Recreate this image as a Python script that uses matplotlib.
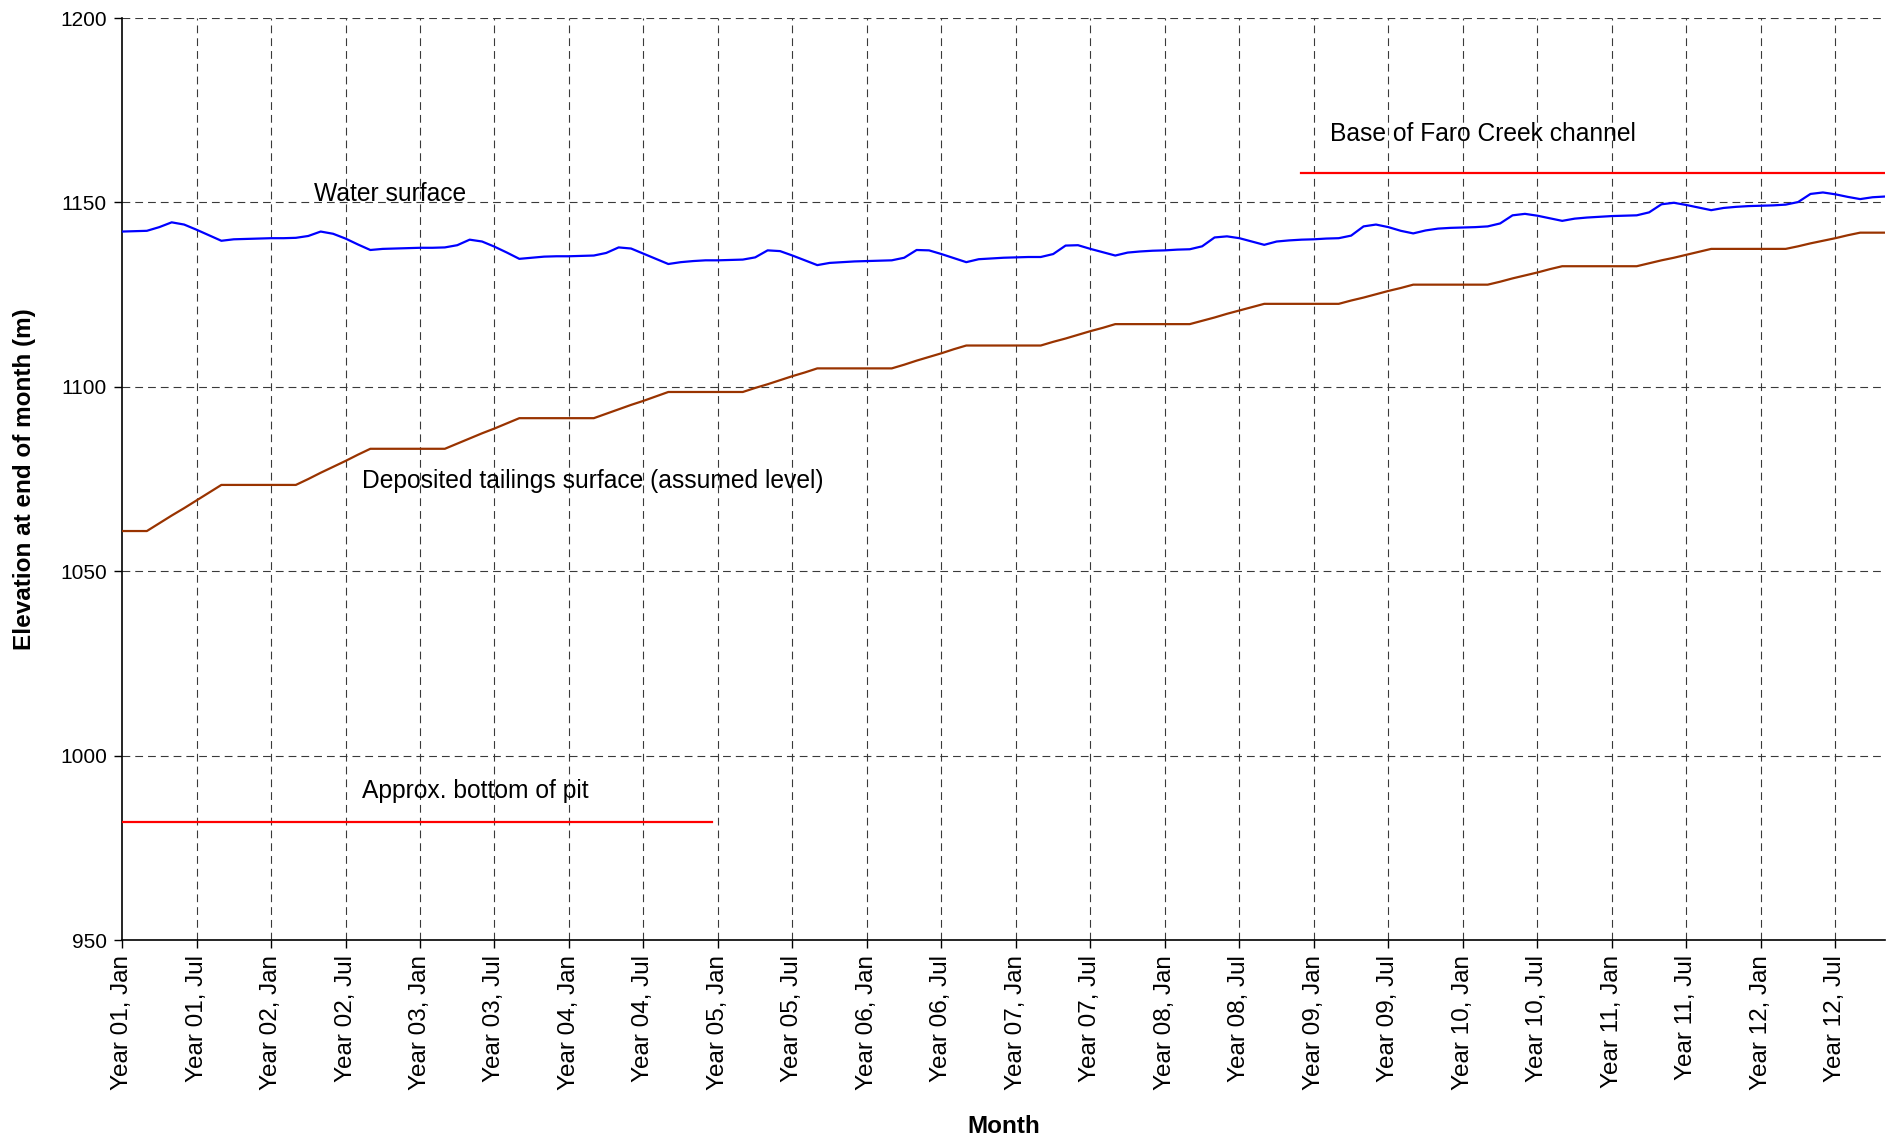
import matplotlib
matplotlib.use("Agg")
import matplotlib.pyplot as plt
import numpy as np

plt.rcParams['font.family'] = ['Liberation Sans', 'DejaVu Sans']

# Monthly elevations (m), month 0 = Year 01 Jan
water_surface = [
    1142.1, 1142.2, 1142.3, 1143.3, 1144.6, 1144.0, 1142.6, 1141.1, 1139.6, 1140.0, 1140.1, 1140.2,
    1140.3, 1140.3, 1140.4, 1140.9, 1142.1, 1141.5, 1140.2, 1138.6, 1137.1, 1137.4, 1137.5, 1137.6,
    1137.7, 1137.7, 1137.8, 1138.4, 1139.9, 1139.4, 1138.0, 1136.4, 1134.7, 1135.0, 1135.3, 1135.4,
    1135.4, 1135.5, 1135.6, 1136.3, 1137.8, 1137.5, 1136.1, 1134.7, 1133.3, 1133.8, 1134.1, 1134.3,
    1134.3, 1134.4, 1134.5, 1135.1, 1137.0, 1136.8, 1135.6, 1134.3, 1133.0, 1133.6, 1133.8, 1134.0,
    1134.1, 1134.2, 1134.3, 1135.0, 1137.1, 1137.0, 1136.0, 1134.9, 1133.8, 1134.6, 1134.8, 1135.0,
    1135.1, 1135.2, 1135.2, 1136.0, 1138.3, 1138.4, 1137.4, 1136.5, 1135.6, 1136.4, 1136.7, 1136.9,
    1137.0, 1137.2, 1137.3, 1138.1, 1140.5, 1140.8, 1140.3, 1139.4, 1138.5, 1139.4, 1139.7, 1139.9,
    1140.0, 1140.2, 1140.3, 1141.0, 1143.5, 1144.0, 1143.3, 1142.3, 1141.6, 1142.4, 1142.9, 1143.1,
    1143.2, 1143.3, 1143.5, 1144.3, 1146.5, 1146.9, 1146.4, 1145.7, 1145.0, 1145.6, 1145.9, 1146.1,
    1146.3, 1146.4, 1146.5, 1147.3, 1149.5, 1149.9, 1149.3, 1148.6, 1147.9, 1148.5, 1148.8, 1149.0,
    1149.1, 1149.2, 1149.4, 1150.1, 1152.3, 1152.7, 1152.2, 1151.5, 1150.9, 1151.4, 1151.6,
]

tailings_surface = [
    1060.9, 1060.9, 1060.9,
    1063.0, 1065.1, 1067.1, 1069.2, 1071.3, 1073.4,
    1073.4, 1073.4, 1073.4, 1073.4, 1073.4, 1073.4,
    1075.0, 1076.7, 1078.3, 1079.9, 1081.6, 1083.2,
    1083.2, 1083.2, 1083.2, 1083.2, 1083.2, 1083.2,
    1084.6, 1086.0, 1087.4, 1088.7, 1090.1, 1091.5,
    1091.5, 1091.5, 1091.5, 1091.5, 1091.5, 1091.5,
    1092.7, 1093.9, 1095.1, 1096.2, 1097.4, 1098.6,
    1098.6, 1098.6, 1098.6, 1098.6, 1098.6, 1098.6,
    1099.7, 1100.7, 1101.8, 1102.9, 1103.9, 1105.0,
    1105.0, 1105.0, 1105.0, 1105.0, 1105.0, 1105.0,
    1106.0, 1107.1, 1108.1, 1109.1, 1110.2, 1111.2,
    1111.2, 1111.2, 1111.2, 1111.2, 1111.2, 1111.2,
    1112.2, 1113.1, 1114.1, 1115.1, 1116.0, 1117.0,
    1117.0, 1117.0, 1117.0, 1117.0, 1117.0, 1117.0,
    1117.9, 1118.8, 1119.8, 1120.7, 1121.6, 1122.5,
    1122.5, 1122.5, 1122.5, 1122.5, 1122.5, 1122.5,
    1123.4, 1124.2, 1125.1, 1126.0, 1126.8, 1127.7,
    1127.7, 1127.7, 1127.7, 1127.7, 1127.7, 1127.7,
    1128.5, 1129.4, 1130.2, 1131.0, 1131.9, 1132.7,
    1132.7, 1132.7, 1132.7, 1132.7, 1132.7, 1132.7,
    1133.5, 1134.3, 1135.0, 1135.8, 1136.6, 1137.4,
    1137.4, 1137.4, 1137.4, 1137.4, 1137.4, 1137.4,
    1138.1, 1138.9, 1139.6, 1140.3, 1141.1, 1141.8,
    1141.8, 1141.8,
]

# Reference levels: (start month, end month), elevation
pit_bottom_months = [0, 47.5]
pit_bottom_level = [982, 982]
faro_creek_months = [95, 142]
faro_creek_level = [1158, 1158]

tick_months = list(range(0, 139, 6))
tick_labels = [f"Year {m // 12 + 1:02d}, {'Jan' if m % 12 == 0 else 'Jul'}" for m in tick_months]
y_ticks = [950, 1000, 1050, 1100, 1150, 1200]

months = np.arange(len(water_surface))

fig = plt.figure(figsize=(18.92, 11.40), dpi=100)
ax = fig.add_axes([0.0645, 0.1754, 0.9318, 0.8088])

grid_style = dict(color='#3a3a3a', linewidth=0.8, linestyle=(0, (7, 4.5)), zorder=1)
for yv in y_ticks[1:]:
    ax.axhline(yv, **grid_style)
for xv in tick_months[1:]:
    ax.axvline(xv, **grid_style)

ax.plot(months, water_surface, color='#0000FF', linewidth=1.6, zorder=3)
ax.plot(months, tailings_surface, color='#993300', linewidth=1.6, zorder=3)
ax.plot(pit_bottom_months, pit_bottom_level, color='#FF0000', linewidth=1.6, zorder=3)
ax.plot(faro_creek_months, faro_creek_level, color='#FF0000', linewidth=1.6, zorder=3)

ax.set_xlim(0, 142)
ax.set_ylim(950, 1200)
ax.set_xticks(tick_months)
ax.set_xticklabels(tick_labels, rotation=90, fontsize=17.5)
ax.set_yticks(y_ticks)
ax.set_yticklabels([str(v) for v in y_ticks], fontsize=15)
ax.tick_params(axis='both', direction='out', length=6, width=1, color='black', pad=5)

for side in ['top', 'right']:
    ax.spines[side].set_visible(False)
for side in ['left', 'bottom']:
    ax.spines[side].set_linewidth(1.2)
    ax.spines[side].set_color('black')

ax.set_ylabel('Elevation at end of month (m)', fontsize=17.5, fontweight='bold', labelpad=17)
ax.set_xlabel('Month', fontsize=17.5, fontweight='bold', labelpad=18)

text_style = dict(fontsize=17.7, color='black', ha='left', va='center')
ax.text(15.5, 1152.3, 'Water surface', **text_style)
ax.text(97.3, 1168.6, 'Base of Faro Creek channel', **text_style)
ax.text(19.3, 1074.5, 'Deposited tailings surface (assumed level)', **text_style)
ax.text(19.3, 990.3, 'Approx. bottom of pit', **text_style)

fig.savefig('out.png', dpi=100)
